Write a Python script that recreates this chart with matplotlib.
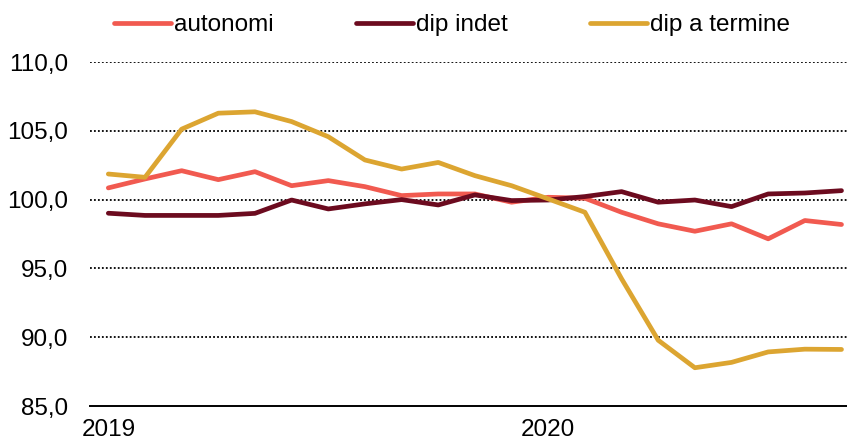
import numpy as np
import matplotlib
matplotlib.use("Agg")
import matplotlib.pyplot as plt
from matplotlib.ticker import FuncFormatter

plt.rcParams['font.family'] = ['Liberation Sans', 'DejaVu Sans']

# monthly index, Jan 2019 - Sep 2020
months = np.arange(21)
year_ticks = [0, 12]
year_labels = ['2019', '2020']

autonomi = [100.85, 101.5, 102.1, 101.45, 102.03, 101.01, 101.38, 100.94, 100.29, 100.41,
            100.41, 99.81, 100.17, 100.1, 99.08, 98.24, 97.7, 98.24, 97.15, 98.48, 98.19]
dip_indet = [99.01, 98.85, 98.85, 98.85, 99.0, 99.97, 99.32, 99.69, 100.0, 99.61,
             100.34, 99.93, 99.97, 100.22, 100.58, 99.81, 99.97, 99.49, 100.41, 100.48, 100.65]
dip_termine = [101.86, 101.62, 105.12, 106.28, 106.38, 105.67, 104.57, 102.88, 102.22, 102.70,
               101.74, 101.01, 100.05, 99.08, 94.25, 89.78, 87.78, 88.17, 88.93, 89.13, 89.11]

fig = plt.figure(figsize=(8.47, 4.45), dpi=100)
ax = fig.add_axes([90/847, 39/445, 757/847, 344/445])

ax.plot(months, autonomi, color='#F15A50', lw=3.4, label='autonomi', solid_capstyle='round')
ax.plot(months, dip_indet, color='#6C0B1F', lw=3.4, label='dip indet', solid_capstyle='round')
ax.plot(months, dip_termine, color='#DCA531', lw=3.4, label='dip a termine', solid_capstyle='round')

ax.set_xlim(-0.5, 20.15)
ax.set_ylim(85, 110)
ax.set_yticks([85, 90, 95, 100, 105, 110])
ax.yaxis.set_major_formatter(FuncFormatter(lambda v, p: f"{v:.1f}".replace('.', ',')))
ax.set_xticks(year_ticks)
ax.set_xticklabels(year_labels)

for v in [90, 95, 100, 105, 110]:
    ax.axhline(v, color='black', lw=1.3, ls=(0, (1, 1.2)), zorder=0)

for s in ['top', 'right', 'left']:
    ax.spines[s].set_visible(False)
ax.spines['bottom'].set_linewidth(1.4)
ax.tick_params(axis='both', length=0, labelsize=17.5)
ax.tick_params(axis='y', pad=16)
ax.tick_params(axis='x', pad=9)

fig.legend(loc='center', bbox_to_anchor=(452/847, 1 - 25/445), ncol=3, frameon=False,
           fontsize=17.5, handlelength=2.35, handletextpad=0.1, columnspacing=3.4)

fig.savefig('out.png', dpi=100)
